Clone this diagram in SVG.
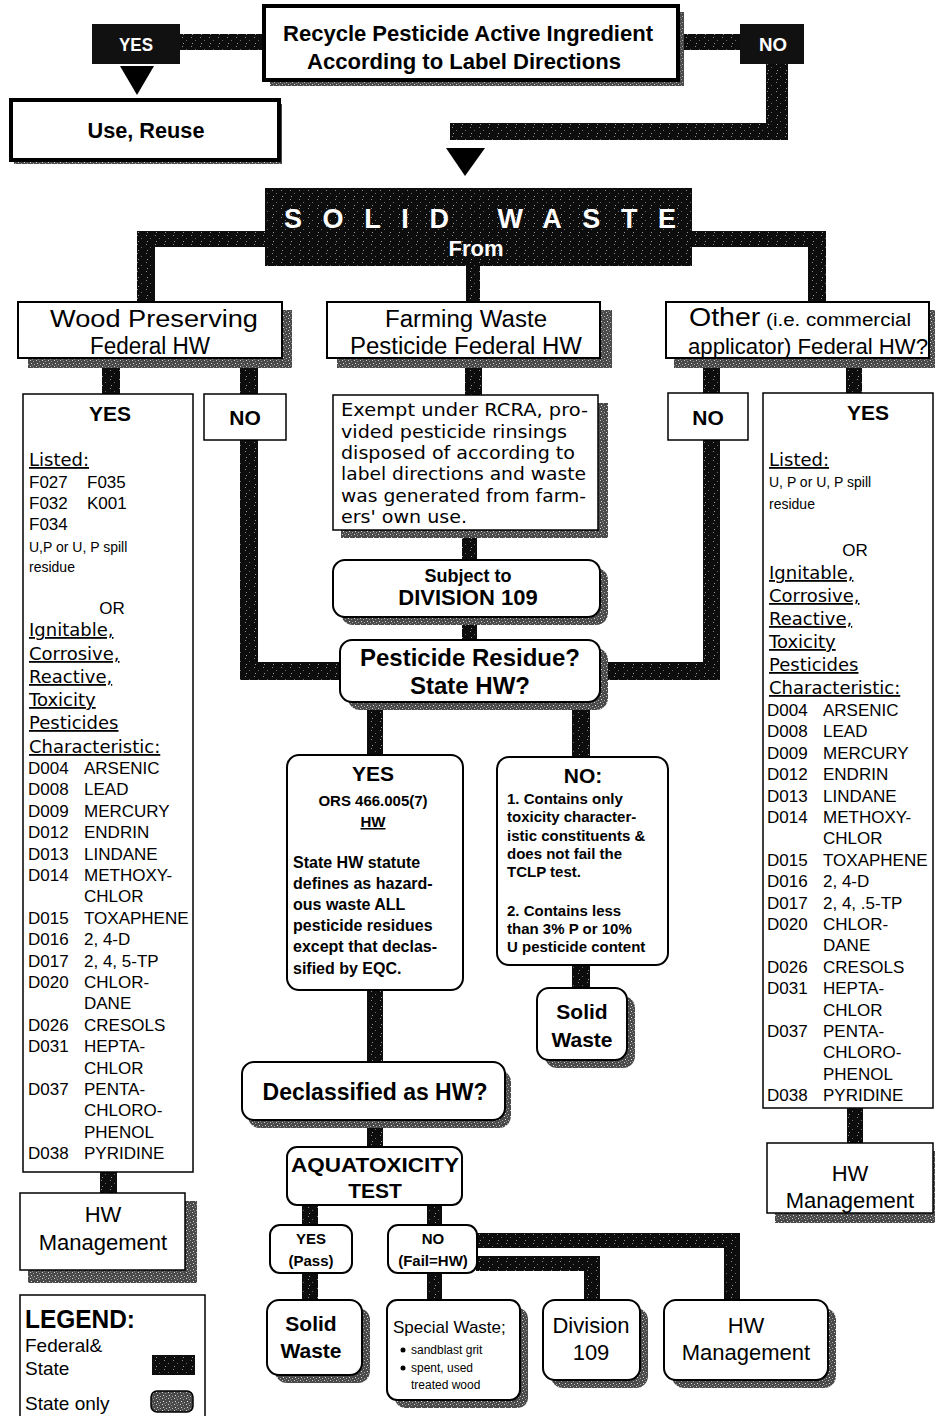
<svg xmlns="http://www.w3.org/2000/svg" width="935" height="1416" viewBox="0 0 935 1416">
<defs>
<pattern id="bk" width="9" height="9" patternUnits="userSpaceOnUse">
<rect width="9" height="9" fill="#0d0d0d"/>
<rect x="2" y="1" width="1" height="1" fill="#8a8a8a"/>
<rect x="6" y="4" width="1" height="1" fill="#6a6a6a"/>
<rect x="3" y="7" width="1" height="1" fill="#9a9a9a"/>
</pattern>
<pattern id="gr" width="6" height="6" patternUnits="userSpaceOnUse">
<rect width="6" height="6" fill="#4a4a4a"/>
<rect x="0" y="0" width="1" height="1" fill="#d0d0d0"/>
<rect x="3" y="1" width="1" height="1" fill="#9a9a9a"/>
<rect x="1" y="3" width="1" height="1" fill="#e0e0e0"/>
<rect x="4" y="4" width="1" height="1" fill="#b0b0b0"/>
<rect x="2" y="5" width="1" height="1" fill="#888"/>
</pattern>
</defs>
<style>
.s{font-family:"Liberation Sans",Arial,sans-serif}
.b{font-family:"Liberation Sans",Arial,sans-serif;font-weight:bold}
.v{font-family:"DejaVu Sans",Verdana,sans-serif}
.box{fill:#fff;stroke:#000;stroke-width:2}
.thin{fill:#fff;stroke:#000;stroke-width:1.5}
.thick{fill:#fff;stroke:#000;stroke-width:4}
.sh{fill:url(#gr)}
.bar{fill:url(#bk)}
.c{text-anchor:middle}
.u{text-decoration:underline}
.w{fill:#fff}
.lst{font-family:"Liberation Sans",Arial,sans-serif;font-size:17px}
.hd{font-family:"DejaVu Sans",Verdana,sans-serif;font-size:18px;text-decoration:underline}
</style>
<rect width="935" height="1416" fill="#fff"/>

<g id="connectors">
<rect class="bar" x="180" y="34" width="86" height="16"/>
<rect class="bar" x="676" y="34" width="66" height="16"/>
<rect class="bar" x="766" y="62" width="22" height="78"/>
<rect class="bar" x="450" y="123" width="338" height="17"/>
<polygon points="446,148 485,148 465,176" fill="#000"/>
<polygon points="120,66 154,66 137,95" fill="#000"/>
<rect class="bar" x="137" y="231" width="130" height="16"/>
<rect class="bar" x="137" y="231" width="18" height="72"/>
<rect class="bar" x="690" y="231" width="136" height="16"/>
<rect class="bar" x="808" y="231" width="18" height="72"/>
<rect class="bar" x="466" y="264" width="14" height="39"/>
<rect class="bar" x="102" y="366" width="18" height="29"/>
<rect class="bar" x="240" y="366" width="18" height="29"/>
<rect class="bar" x="465" y="366" width="17" height="30"/>
<rect class="bar" x="703" y="366" width="17" height="28"/>
<rect class="bar" x="846" y="366" width="16" height="28"/>
<rect class="bar" x="240" y="439" width="18" height="241"/>
<rect class="bar" x="240" y="662" width="102" height="18"/>
<rect class="bar" x="703" y="439" width="17" height="241"/>
<rect class="bar" x="598" y="662" width="122" height="18"/>
<rect class="bar" x="462" y="536" width="15" height="26"/>
<rect class="bar" x="462" y="622" width="15" height="20"/>
<rect class="bar" x="367" y="702" width="16" height="54"/>
<rect class="bar" x="572" y="702" width="18" height="56"/>
<rect class="bar" x="572" y="964" width="18" height="26"/>
<rect class="bar" x="367" y="989" width="16" height="74"/>
<rect class="bar" x="367" y="1126" width="16" height="22"/>
<rect class="bar" x="302" y="1204" width="16" height="22"/>
<rect class="bar" x="427" y="1204" width="15" height="22"/>
<rect class="bar" x="302" y="1272" width="16" height="29"/>
<rect class="bar" x="427" y="1272" width="15" height="29"/>
<rect class="bar" x="476" y="1233" width="264" height="15"/>
<rect class="bar" x="724" y="1233" width="16" height="67"/>
<rect class="bar" x="476" y="1256" width="124" height="15"/>
<rect class="bar" x="584" y="1256" width="16" height="44"/>
<rect class="bar" x="100" y="1171" width="17" height="23"/>
<rect class="bar" x="847" y="1107" width="16" height="37"/>
</g>

<g id="yes-top">
<rect x="92" y="24" width="88" height="40" fill="#111"/>
<text class="b w c" x="136" y="51" font-size="18" textLength="34" lengthAdjust="spacingAndGlyphs">YES</text>
</g>
<g id="recycle">
<rect class="sh" x="270" y="12" width="414" height="74"/>
<rect class="thick" x="264" y="6" width="414" height="74"/>
<text class="b c" x="468" y="41" font-size="22" textLength="370" lengthAdjust="spacingAndGlyphs">Recycle Pesticide Active Ingredient</text>
<text class="b c" x="464" y="69" font-size="22" textLength="314" lengthAdjust="spacingAndGlyphs">According to Label Directions</text>
</g>
<g id="no-top">
<rect x="740" y="24" width="64" height="40" fill="#111"/>
<text class="b w c" x="773" y="51" font-size="18" textLength="28" lengthAdjust="spacingAndGlyphs">NO</text>
</g>
<g id="use-reuse">
<rect class="sh" x="14" y="104" width="268" height="60"/>
<rect class="thick" x="11" y="100" width="268" height="60"/>
<text class="b c" x="146" y="138" font-size="22" textLength="117" lengthAdjust="spacingAndGlyphs">Use, Reuse</text>
</g>

<g id="solid-waste">
<rect class="bar" x="265" y="188" width="427" height="78"/>
<text class="b w" x="284" y="228" font-size="27" textLength="392" lengthAdjust="spacing">SOLID WASTE</text>
<text class="b w c" x="476" y="256" font-size="22">From</text>
</g>

<g id="wood-header">
<rect class="sh" x="28" y="310" width="264" height="58"/>
<rect class="box" x="18" y="302" width="264" height="56"/>
<text class="s c" x="154" y="327" font-size="23" textLength="208" lengthAdjust="spacingAndGlyphs">Wood Preserving</text>
<text class="s c" x="150" y="354" font-size="23" textLength="120" lengthAdjust="spacingAndGlyphs">Federal HW</text>
</g>
<g id="farming-header">
<rect class="sh" x="337" y="310" width="275" height="58"/>
<rect class="box" x="327" y="302" width="273" height="56"/>
<text class="s c" x="466" y="327" font-size="23" textLength="162" lengthAdjust="spacingAndGlyphs">Farming  Waste</text>
<text class="s c" x="466" y="354" font-size="23" textLength="232" lengthAdjust="spacingAndGlyphs">Pesticide  Federal  HW</text>
</g>
<g id="other-header">
<rect class="sh" x="674" y="310" width="261" height="58"/>
<rect class="box" x="666" y="302" width="263" height="56"/>
<text class="s" x="689" y="326" textLength="222" lengthAdjust="spacingAndGlyphs"><tspan font-size="25">Other</tspan><tspan font-size="18"> (i.e. commercial</tspan></text>
<text class="s c" x="808" y="354" font-size="22" textLength="240" lengthAdjust="spacingAndGlyphs">applicator) Federal HW?</text>
</g>

<g id="wood-yes">
<rect class="thin" x="23" y="394" width="170" height="778"/>
<text class="b c" x="110" y="421" font-size="21">YES</text>
<text class="hd" x="29" y="466">Listed:</text>
<text class="lst"><tspan x="29" y="488">F027</tspan><tspan x="87">F035</tspan><tspan x="29" y="509">F032</tspan><tspan x="87">K001</tspan><tspan x="29" y="530">F034</tspan></text>
<text class="s" font-size="14"><tspan x="29" y="552">U,P or U, P spill</tspan><tspan x="29" y="572">residue</tspan></text>
<text class="lst c" x="112" y="614">OR</text>
<text class="hd" x="29" y="636">Ignitable,</text>
<text class="hd" x="29" y="660">Corrosive,</text>
<text class="hd" x="29" y="683">Reactive,</text>
<text class="hd" x="29" y="706">Toxicity</text>
<text class="hd" x="29" y="729">Pesticides</text>
<text class="hd" x="29" y="753">Characteristic:</text>
<text class="lst">
<tspan x="28" y="774">D004</tspan><tspan x="84">ARSENIC</tspan>
<tspan x="28" y="795">D008</tspan><tspan x="84">LEAD</tspan>
<tspan x="28" y="817">D009</tspan><tspan x="84">MERCURY</tspan>
<tspan x="28" y="838">D012</tspan><tspan x="84">ENDRIN</tspan>
<tspan x="28" y="860">D013</tspan><tspan x="84">LINDANE</tspan>
<tspan x="28" y="881">D014</tspan><tspan x="84">METHOXY-</tspan>
<tspan x="84" y="902">CHLOR</tspan>
<tspan x="28" y="924">D015</tspan><tspan x="84">TOXAPHENE</tspan>
<tspan x="28" y="945">D016</tspan><tspan x="84">2, 4-D</tspan>
<tspan x="28" y="967">D017</tspan><tspan x="84">2, 4, 5-TP</tspan>
<tspan x="28" y="988">D020</tspan><tspan x="84">CHLOR-</tspan>
<tspan x="84" y="1009">DANE</tspan>
<tspan x="28" y="1031">D026</tspan><tspan x="84">CRESOLS</tspan>
<tspan x="28" y="1052">D031</tspan><tspan x="84">HEPTA-</tspan>
<tspan x="84" y="1074">CHLOR</tspan>
<tspan x="28" y="1095">D037</tspan><tspan x="84">PENTA-</tspan>
<tspan x="84" y="1116">CHLORO-</tspan>
<tspan x="84" y="1138">PHENOL</tspan>
<tspan x="28" y="1159">D038</tspan><tspan x="84">PYRIDINE</tspan>
</text>
</g>
<g id="wood-no">
<rect class="thin" x="204" y="394" width="82" height="46"/>
<text class="b c" x="245" y="425" font-size="21">NO</text>
</g>

<g id="other-no">
<rect class="thin" x="668" y="393" width="80" height="47"/>
<text class="b c" x="708" y="425" font-size="21">NO</text>
</g>
<g id="other-yes">
<rect class="thin" x="763" y="393" width="170" height="715"/>
<text class="b c" x="868" y="420" font-size="21">YES</text>
<text class="hd" x="769" y="466">Listed:</text>
<text class="s" font-size="14"><tspan x="769" y="487">U, P or U, P spill</tspan><tspan x="769" y="509">residue</tspan></text>
<text class="lst c" x="855" y="556">OR</text>
<text class="hd" x="769" y="579">Ignitable,</text>
<text class="hd" x="769" y="602">Corrosive,</text>
<text class="hd" x="769" y="625">Reactive,</text>
<text class="hd" x="769" y="648">Toxicity</text>
<text class="hd" x="769" y="671">Pesticides</text>
<text class="hd" x="769" y="694">Characteristic:</text>
<text class="lst">
<tspan x="767" y="716">D004</tspan><tspan x="823">ARSENIC</tspan>
<tspan x="767" y="737">D008</tspan><tspan x="823">LEAD</tspan>
<tspan x="767" y="759">D009</tspan><tspan x="823">MERCURY</tspan>
<tspan x="767" y="780">D012</tspan><tspan x="823">ENDRIN</tspan>
<tspan x="767" y="802">D013</tspan><tspan x="823">LINDANE</tspan>
<tspan x="767" y="823">D014</tspan><tspan x="823">METHOXY-</tspan>
<tspan x="823" y="844">CHLOR</tspan>
<tspan x="767" y="866">D015</tspan><tspan x="823">TOXAPHENE</tspan>
<tspan x="767" y="887">D016</tspan><tspan x="823">2, 4-D</tspan>
<tspan x="767" y="909">D017</tspan><tspan x="823">2, 4, .5-TP</tspan>
<tspan x="767" y="930">D020</tspan><tspan x="823">CHLOR-</tspan>
<tspan x="823" y="951">DANE</tspan>
<tspan x="767" y="973">D026</tspan><tspan x="823">CRESOLS</tspan>
<tspan x="767" y="994">D031</tspan><tspan x="823">HEPTA-</tspan>
<tspan x="823" y="1016">CHLOR</tspan>
<tspan x="767" y="1037">D037</tspan><tspan x="823">PENTA-</tspan>
<tspan x="823" y="1058">CHLORO-</tspan>
<tspan x="823" y="1080">PHENOL</tspan>
<tspan x="767" y="1101">D038</tspan><tspan x="823">PYRIDINE</tspan>
</text>
</g>

<g id="exempt">
<rect class="sh" x="341" y="403" width="267" height="135"/>
<rect class="thin" x="333" y="395" width="265" height="135"/>
<text class="v" font-size="17.5">
<tspan x="341" y="416" textLength="247" lengthAdjust="spacingAndGlyphs">Exempt under RCRA, pro-</tspan>
<tspan x="341" y="438" textLength="226" lengthAdjust="spacingAndGlyphs">vided pesticide rinsings</tspan>
<tspan x="341" y="459" textLength="234" lengthAdjust="spacingAndGlyphs">disposed of according to</tspan>
<tspan x="341" y="480" textLength="245" lengthAdjust="spacingAndGlyphs">label directions and waste</tspan>
<tspan x="341" y="502" textLength="245" lengthAdjust="spacingAndGlyphs">was generated from farm-</tspan>
<tspan x="341" y="523" textLength="126" lengthAdjust="spacingAndGlyphs">ers' own use.</tspan>
</text>
</g>
<g id="subject">
<rect class="sh" x="341" y="568" width="267" height="57" rx="12"/>
<rect class="box" x="333" y="560" width="267" height="57" rx="12"/>
<text class="b c" x="468" y="582" font-size="18">Subject to</text>
<text class="b c" x="468" y="605" font-size="22">DIVISION 109</text>
</g>
<g id="pesticide-residue">
<rect class="sh" x="348" y="648" width="260" height="62" rx="12"/>
<rect class="box" x="340" y="640" width="260" height="62" rx="12"/>
<text class="b c" x="470" y="666" font-size="24">Pesticide Residue?</text>
<text class="b c" x="470" y="694" font-size="24">State HW?</text>
</g>

<g id="yes-state">
<rect class="box" x="287" y="755" width="176" height="235" rx="12"/>
<text class="b c" x="373" y="781" font-size="21">YES</text>
<text class="b c" x="373" y="806" font-size="15">ORS  466.005(7)</text>
<text class="b c u" x="373" y="827" font-size="15">HW</text>
<text class="b" font-size="16">
<tspan x="293" y="868">State HW statute</tspan>
<tspan x="293" y="889">defines as hazard-</tspan>
<tspan x="293" y="910">ous waste ALL</tspan>
<tspan x="293" y="931">pesticide residues</tspan>
<tspan x="293" y="952">except that declas-</tspan>
<tspan x="293" y="974">sified by EQC.</tspan>
</text>
</g>
<g id="no-state">
<rect class="box" x="497" y="757" width="171" height="208" rx="12"/>
<text class="b c" x="583" y="783" font-size="21">NO:</text>
<text class="b" font-size="15">
<tspan x="507" y="804">1. Contains only</tspan>
<tspan x="507" y="822">toxicity character-</tspan>
<tspan x="507" y="841">istic constituents &amp;</tspan>
<tspan x="507" y="859">does not fail the</tspan>
<tspan x="507" y="877">TCLP test.</tspan>
<tspan x="507" y="916">2. Contains less</tspan>
<tspan x="507" y="934">than 3% P or 10%</tspan>
<tspan x="507" y="952">U pesticide content</tspan>
</text>
</g>
<g id="solid-waste-mid">
<rect class="sh" x="545" y="996" width="90" height="72" rx="12"/>
<rect class="box" x="537" y="988" width="90" height="72" rx="12"/>
<text class="b c" x="582" y="1019" font-size="21">Solid</text>
<text class="b c" x="582" y="1047" font-size="21">Waste</text>
</g>

<g id="declassified">
<rect class="sh" x="248" y="1070" width="263" height="58" rx="12"/>
<rect class="box" x="242" y="1062" width="263" height="58" rx="12"/>
<text class="b c" x="375" y="1100" font-size="23">Declassified as HW?</text>
</g>
<g id="aquatoxicity">
<rect class="box" x="287" y="1147" width="175" height="58" rx="10"/>
<text class="b c" x="375" y="1172" font-size="21" textLength="168" lengthAdjust="spacingAndGlyphs">AQUATOXICITY</text>
<text class="b c" x="375" y="1198" font-size="21">TEST</text>
</g>
<g id="yes-pass">
<rect class="box" x="270" y="1225" width="82" height="48" rx="10"/>
<text class="b c" x="311" y="1244" font-size="15">YES</text>
<text class="b c" x="311" y="1266" font-size="15">(Pass)</text>
</g>
<g id="no-fail">
<rect class="box" x="388" y="1225" width="89" height="48" rx="10"/>
<text class="b c" x="433" y="1244" font-size="15">NO</text>
<text class="b c" x="433" y="1266" font-size="15">(Fail=HW)</text>
</g>
<g id="solid-waste-bottom">
<rect class="sh" x="275" y="1308" width="95" height="75" rx="12"/>
<rect class="box" x="267" y="1300" width="95" height="75" rx="12"/>
<text class="b c" x="311" y="1331" font-size="21">Solid</text>
<text class="b c" x="311" y="1358" font-size="21">Waste</text>
</g>
<g id="special-waste">
<rect class="sh" x="395" y="1308" width="133" height="100" rx="10"/>
<rect class="box" x="387" y="1300" width="133" height="100" rx="10"/>
<text class="s" x="393" y="1333" font-size="17">Special Waste;</text>
<circle cx="403" cy="1350" r="2.5"/>
<circle cx="403" cy="1368" r="2.5"/>
<text class="s" font-size="12"><tspan x="411" y="1354">sandblast  grit</tspan><tspan x="411" y="1372">spent,  used</tspan><tspan x="411" y="1389">treated  wood</tspan></text>
</g>
<g id="division-109">
<rect class="sh" x="551" y="1308" width="97" height="80" rx="12"/>
<rect class="box" x="543" y="1300" width="97" height="80" rx="12"/>
<text class="s c" x="591" y="1333" font-size="22">Division</text>
<text class="s c" x="591" y="1360" font-size="22">109</text>
</g>
<g id="hw-mgmt-bottom">
<rect class="sh" x="672" y="1308" width="164" height="80" rx="12"/>
<rect class="box" x="664" y="1300" width="164" height="80" rx="12"/>
<text class="s c" x="746" y="1333" font-size="22">HW</text>
<text class="s c" x="746" y="1360" font-size="22">Management</text>
</g>

<g id="hw-mgmt-left">
<rect class="sh" x="28" y="1201" width="169" height="82"/>
<rect class="thin" x="20" y="1193" width="165" height="77"/>
<text class="s c" x="103" y="1222" font-size="22">HW</text>
<text class="s c" x="103" y="1250" font-size="22">Management</text>
</g>
<g id="hw-mgmt-right">
<rect class="sh" x="775" y="1151" width="160" height="72"/>
<rect class="thin" x="767" y="1143" width="166" height="70"/>
<text class="s c" x="850" y="1181" font-size="22">HW</text>
<text class="s c" x="850" y="1208" font-size="22">Management</text>
</g>

<g id="legend">
<rect class="thin" x="20" y="1295" width="185" height="130"/>
<text class="b" x="25" y="1328" font-size="26" textLength="110" lengthAdjust="spacingAndGlyphs">LEGEND:</text>
<text class="s" font-size="19"><tspan x="25" y="1352">Federal&amp;</tspan><tspan x="25" y="1375">State</tspan><tspan x="25" y="1410">State only</tspan></text>
<rect x="152" y="1355" width="43" height="20" fill="url(#bk)"/>
<rect x="151" y="1391" width="42" height="21" rx="6" fill="url(#gr)" stroke="#000" stroke-width="1.5"/>
</g>
</svg>
